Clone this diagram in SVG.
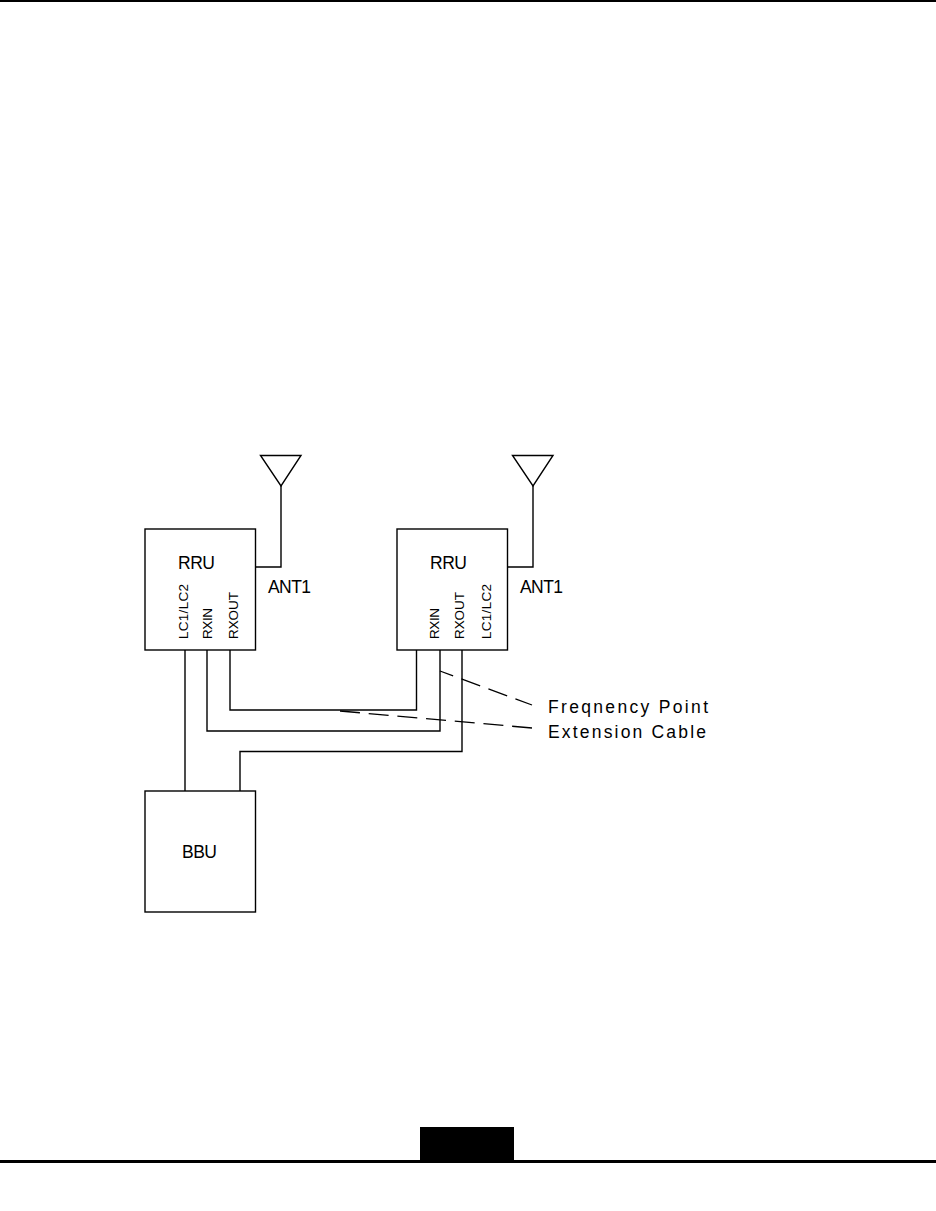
<svg xmlns="http://www.w3.org/2000/svg" width="936" height="1211" viewBox="0 0 936 1211">
<style>
.l{fill:none;stroke:#000;stroke-width:1.4}
.b{fill:#fff;stroke:#000;stroke-width:1.4}
.d{fill:none;stroke:#000;stroke-width:1.3;stroke-dasharray:20 8.800}
text{font-family:"Liberation Sans",Arial,sans-serif;fill:#000}
.t{font-size:17.500px}
.s{font-size:13.500px}
</style>
<rect width="936" height="1211" fill="#fff"/>
<rect x="0" y="0" width="936" height="2" fill="#000"/>
<rect x="0" y="1160" width="936" height="3" fill="#000"/>
<rect x="420" y="1127" width="94" height="34" fill="#000"/>
<g id="connectors">
<path class="l" d="M185 650V791M207 650V731H440V650M230 650V710H416.500V650M462 650V751.500H240V791"/>
<path class="l" d="M255 567H281V486M507 567H533V486"/>
<path class="d" stroke-dashoffset="6" d="M440 671L532 705"/>
<path class="d" d="M340 711L532 728"/>
</g>
<g id="ant1"><path class="l" d="M260.500 455.500H301L281 486Z"/></g>
<g id="ant2"><path class="l" d="M512.500 455.500H553L533 486Z"/></g>
<g id="rru1"><rect class="b" x="145" y="529" width="110.500" height="121"/>
<text class="t" x="178" y="569" textLength="37">RRU</text>
<text class="s" transform="translate(188,639) rotate(-90)" textLength="55">LC1/LC2</text>
<text class="s" transform="translate(212,639) rotate(-90)" textLength="31">RXIN</text>
<text class="s" transform="translate(238,639) rotate(-90)" textLength="47">RXOUT</text></g>
<g id="rru2"><rect class="b" x="397" y="529" width="110.500" height="121"/>
<text class="t" x="430" y="569" textLength="37">RRU</text>
<text class="s" transform="translate(439,639) rotate(-90)" textLength="31">RXIN</text>
<text class="s" transform="translate(464,639) rotate(-90)" textLength="47">RXOUT</text>
<text class="s" transform="translate(491,639) rotate(-90)" textLength="55">LC1/LC2</text></g>
<g id="bbu"><rect class="b" x="145" y="791" width="110.500" height="121"/>
<text class="t" x="182" y="858" textLength="35">BBU</text></g>
<g id="labels">
<text class="t" x="268" y="593" textLength="43">ANT1</text>
<text class="t" x="520" y="593" textLength="43">ANT1</text>
<text class="t" x="548" y="712.500" textLength="160">Freqnency Point</text>
<text class="t" x="548" y="738" textLength="158">Extension Cable</text>
</g>
</svg>
